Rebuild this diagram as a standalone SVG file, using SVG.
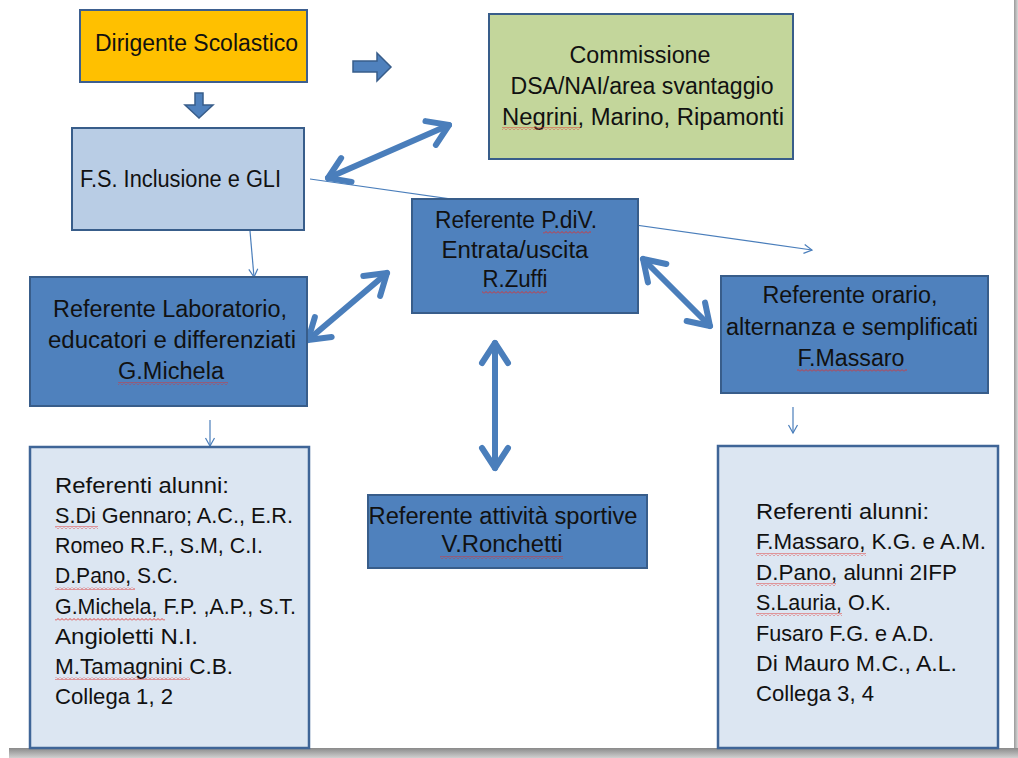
<svg xmlns="http://www.w3.org/2000/svg" width="1018" height="758" viewBox="0 0 1018 758">
<style>
  text { font-family: "Liberation Sans", Arial, sans-serif; font-size: 23px; fill: #111; }
  .c { text-anchor: middle; }
  .l { font-size: 22px; }
  .dark { fill: #4F81BD; stroke: #385D8A; stroke-width: 2; }
  .list { fill: #DCE6F2; stroke: #3F6597; stroke-width: 2.5; }
  .thick { stroke: #4A7EBB; stroke-width: 6; stroke-linecap: round; fill: none; marker-start: url(#chev); marker-end: url(#chev); }
  .thin { stroke: #4A7EBB; stroke-width: 1.2; fill: none; marker-end: url(#small); }
  .block { fill: #4F81BD; stroke: #385D8A; stroke-width: 1.5; }
  .wave { fill: url(#wavy); }
</style>
<defs>
  <marker id="chev" viewBox="-2 -2 30 36" markerWidth="30" markerHeight="36" refX="23" refY="16" orient="auto-start-reverse" markerUnits="userSpaceOnUse" overflow="visible">
    <path d="M3,3 L23,16 L3,29" fill="none" stroke="#4A7EBB" stroke-width="6" stroke-linecap="round" stroke-linejoin="round"/>
  </marker>
  <marker id="small" viewBox="0 0 10 10" markerWidth="10" markerHeight="10" refX="9" refY="5" orient="auto" markerUnits="userSpaceOnUse" overflow="visible">
    <path d="M1,0.5 L9,5 L1,9.5" fill="none" stroke="#4A7EBB" stroke-width="1.2"/>
  </marker>
  <pattern id="wavy" width="4" height="3" patternUnits="userSpaceOnUse">
    <path d="M0,2.5 L2,0.5 L4,2.5" fill="none" stroke="#E0302C" stroke-width="0.9"/>
  </pattern>
  <linearGradient id="shb" x1="0" y1="0" x2="0" y2="1">
    <stop offset="0" stop-color="#8A8A8A"/>
    <stop offset="1" stop-color="#D0D0D0"/>
  </linearGradient>
  <linearGradient id="shr" x1="0" y1="0" x2="1" y2="0">
    <stop offset="0" stop-color="#9A9A9A"/>
    <stop offset="1" stop-color="#D8D8D8"/>
  </linearGradient>
</defs>

<g id="frame">
  <rect x="0" y="0" width="1018" height="758" fill="#FFFFFF"/>
  <rect x="1014" y="0" width="4" height="748" fill="url(#shr)"/>
  <rect x="9" y="748" width="1009" height="10" fill="url(#shb)"/>
</g>

<g id="connectors">
  <line class="thin" x1="310" y1="179" x2="812" y2="250"/>
  <line class="thin" x1="250" y1="231" x2="254" y2="277"/>
  <line class="thin" x1="210" y1="420" x2="210" y2="446"/>
  <line class="thin" x1="793" y1="407" x2="793" y2="433"/>
  <line class="thick" x1="328" y1="178" x2="449" y2="125"/>
  <line class="thick" x1="308" y1="340" x2="387" y2="273"/>
  <line class="thick" x1="643" y1="259" x2="710" y2="326"/>
  <line class="thick" x1="495" y1="343" x2="495" y2="468"/>
  <polygon class="block" points="195,93 203,93 203,105 213,105 199,118 185,105 195,105"/>
  <polygon class="block" points="353,61 377,61 377,53 391,67 377,81 377,72 353,72"/>
</g>

<g id="dirigente">
  <rect x="80" y="10" width="227" height="72" fill="#FFC000" stroke="#3D5F8F" stroke-width="2"/>
  <text x="95" y="51" textLength="203" lengthAdjust="spacingAndGlyphs">Dirigente Scolastico</text>
</g>

<g id="fs-inclusione">
  <rect x="72" y="128" width="232" height="102" fill="#B9CDE5" stroke="#385D8A" stroke-width="2"/>
  <text x="80" y="187" textLength="201" lengthAdjust="spacingAndGlyphs">F.S. Inclusione e GLI</text>
</g>

<g id="commissione">
  <rect x="489" y="14" width="304" height="145" fill="#C3D69B" stroke="#385D8A" stroke-width="2"/>
  <text class="c" x="640" y="63" textLength="141" lengthAdjust="spacingAndGlyphs">Commissione</text>
  <text class="c" x="642" y="94" textLength="263" lengthAdjust="spacingAndGlyphs">DSA/NAI/area svantaggio</text>
  <text class="c" x="643" y="125" textLength="282" lengthAdjust="spacingAndGlyphs">Negrini, Marino, Ripamonti</text>
  <rect class="wave" x="502" y="127" width="78" height="3"/>
</g>

<g id="referente-pdiv">
  <rect class="dark" x="412" y="199" width="226" height="114"/>
  <text class="c" x="516" y="228" textLength="162" lengthAdjust="spacingAndGlyphs">Referente P.diV.</text>
  <text class="c" x="515" y="258" textLength="147" lengthAdjust="spacingAndGlyphs">Entrata/uscita</text>
  <text class="c" x="515" y="287" textLength="65" lengthAdjust="spacingAndGlyphs">R.Zuffi</text>
  <rect class="wave" x="543" y="231" width="48" height="3"/>
  <rect class="wave" x="482" y="291" width="65" height="3"/>
</g>

<g id="referente-laboratorio">
  <rect class="dark" x="30" y="277" width="277" height="129"/>
  <text class="c" x="170" y="317" textLength="234" lengthAdjust="spacingAndGlyphs">Referente Laboratorio,</text>
  <text class="c" x="172" y="348" textLength="248" lengthAdjust="spacingAndGlyphs">educatori e differenziati</text>
  <text class="c" x="171" y="379" textLength="106" lengthAdjust="spacingAndGlyphs">G.Michela</text>
  <rect class="wave" x="118" y="382" width="110" height="3"/>
</g>

<g id="referente-orario">
  <rect class="dark" x="721" y="276" width="267" height="117"/>
  <text class="c" x="850" y="303" textLength="175" lengthAdjust="spacingAndGlyphs">Referente orario,</text>
  <text class="c" x="852" y="335" textLength="252" lengthAdjust="spacingAndGlyphs">alternanza e semplificati</text>
  <text class="c" x="851" y="366" textLength="107" lengthAdjust="spacingAndGlyphs">F.Massaro</text>
  <rect class="wave" x="797" y="369" width="110" height="3"/>
</g>

<g id="referente-sportive">
  <rect class="dark" x="368" y="495" width="279" height="73"/>
  <text class="c" x="503" y="524" textLength="269" lengthAdjust="spacingAndGlyphs">Referente attività sportive</text>
  <text class="c" x="502" y="552" textLength="121" lengthAdjust="spacingAndGlyphs">V.Ronchetti</text>
  <rect class="wave" x="440" y="556" width="123" height="3"/>
</g>

<g id="alunni-sinistra">
  <rect class="list" x="30" y="447" width="279" height="301"/>
  <text class="l" x="55" y="493" textLength="174" lengthAdjust="spacingAndGlyphs">Referenti alunni:</text>
  <text class="l" x="55" y="523" textLength="238" lengthAdjust="spacingAndGlyphs">S.Di Gennaro; A.C., E.R.</text>
  <text class="l" x="55" y="553" textLength="208" lengthAdjust="spacingAndGlyphs">Romeo R.F., S.M, C.I.</text>
  <text class="l" x="55" y="583" textLength="123" lengthAdjust="spacingAndGlyphs">D.Pano, S.C.</text>
  <text class="l" x="55" y="614" textLength="241" lengthAdjust="spacingAndGlyphs">G.Michela, F.P. ,A.P., S.T.</text>
  <text class="l" x="55" y="644" textLength="143" lengthAdjust="spacingAndGlyphs">Angioletti N.I.</text>
  <text class="l" x="55" y="674" textLength="178" lengthAdjust="spacingAndGlyphs">M.Tamagnini C.B.</text>
  <text class="l" x="55" y="704" textLength="118" lengthAdjust="spacingAndGlyphs">Collega 1, 2</text>
  <rect class="wave" x="55" y="526" width="43" height="3"/>
  <rect class="wave" x="55" y="587" width="80" height="3"/>
  <rect class="wave" x="55" y="618" width="110" height="3"/>
  <rect class="wave" x="55" y="677" width="135" height="3"/>
</g>

<g id="alunni-destra">
  <rect class="list" x="718" y="446" width="280" height="302"/>
  <text class="l" x="756" y="519" textLength="173" lengthAdjust="spacingAndGlyphs">Referenti alunni:</text>
  <text class="l" x="756" y="549" textLength="230" lengthAdjust="spacingAndGlyphs">F.Massaro, K.G. e A.M.</text>
  <text class="l" x="756" y="580" textLength="201" lengthAdjust="spacingAndGlyphs">D.Pano, alunni 2IFP</text>
  <text class="l" x="756" y="610" textLength="135" lengthAdjust="spacingAndGlyphs">S.Lauria, O.K.</text>
  <text class="l" x="756" y="641" textLength="178" lengthAdjust="spacingAndGlyphs">Fusaro F.G. e A.D.</text>
  <text class="l" x="756" y="671" textLength="201" lengthAdjust="spacingAndGlyphs">Di Mauro M.C., A.L.</text>
  <text class="l" x="756" y="701" textLength="118" lengthAdjust="spacingAndGlyphs">Collega 3, 4</text>
  <rect class="wave" x="756" y="553" width="110" height="3"/>
  <rect class="wave" x="756" y="583" width="80" height="3"/>
  <rect class="wave" x="756" y="613" width="86" height="3"/>
</g>
</svg>
